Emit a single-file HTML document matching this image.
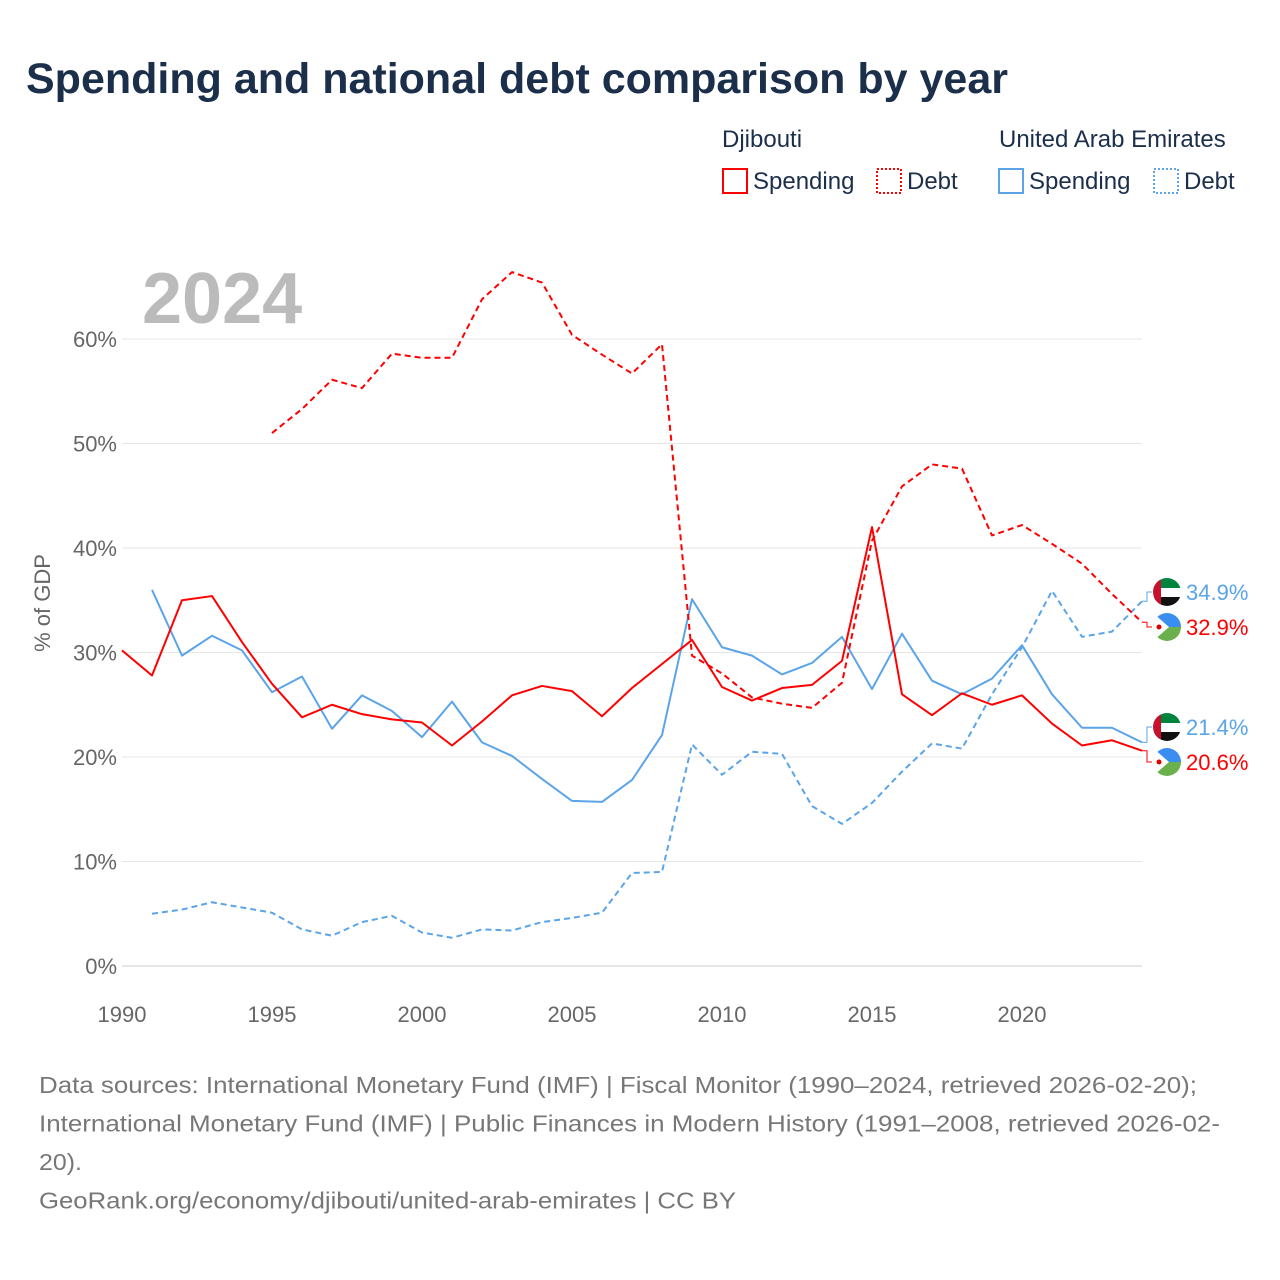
<!DOCTYPE html>
<html><head><meta charset="utf-8"><style>
body{margin:0;background:#fff;font-family:"Liberation Sans",sans-serif;}
#wrap{position:relative;width:1280px;height:1280px;overflow:hidden;}
</style></head><body>
<div id="wrap">
<svg id="chart" width="1280" height="1280"></svg>
</div>
<script>
const years = [];
for (let y = 1990; y <= 2024; y++) years.push(y);
const djSpending = [30.2,27.8,35.0,35.4,31.0,27.0,23.8,25.0,24.1,23.6,23.3,21.1,23.4,25.9,26.8,26.3,23.9,26.6,28.9,31.2,26.7,25.4,26.6,26.9,29.2,42.0,26.0,24.0,26.1,25.0,25.9,23.2,21.1,21.6,20.6];
const djDebt = [null,null,null,null,null,51.0,53.3,56.1,55.3,58.6,58.2,58.2,63.8,66.4,65.4,60.4,58.5,56.7,59.5,29.7,28.0,25.7,25.1,24.7,27.1,40.7,45.9,48.0,47.6,41.2,42.2,40.4,38.5,35.6,32.9];
const uaeSpending = [null,36.0,29.7,31.6,30.2,26.2,27.7,22.7,25.9,24.4,21.9,25.3,21.4,20.1,17.9,15.8,15.7,17.8,22.1,35.1,30.5,29.7,27.9,29.0,31.5,26.5,31.8,27.3,26.0,27.5,30.7,26.0,22.8,22.8,21.4];
const uaeDebt = [null,5.0,5.4,6.1,5.6,5.1,3.5,2.9,4.2,4.8,3.2,2.7,3.5,3.4,4.2,4.6,5.1,8.9,9.0,21.2,18.3,20.5,20.3,15.3,13.6,15.6,18.6,21.3,20.8,26.0,30.5,35.9,31.5,32.0,34.9];
const yTicks = [0,10,20,30,40,50,60];
const xTicks = [1990,1995,2000,2005,2010,2015,2020];

const NS="http://www.w3.org/2000/svg";
const svg=document.getElementById('chart');
const xs=y=>122+(y-1990)*30;
const ys=v=>966-v*10.45;
function el(t,a,parent){const e=document.createElementNS(NS,t);for(const k in a)e.setAttribute(k,a[k]);(parent||svg).appendChild(e);return e;}
function txt(x,y,s,a){const e=el('text',Object.assign({x:x,y:y},a));e.textContent=s;return e;}
const defs=el('defs',{});

let t=txt(26,93,'Spending and national debt comparison by year',{'font-size':43,'font-weight':'bold',fill:'#1b2f4b'});



yTicks.forEach(v=>{
  const g=el('line',{x1:122,x2:1142,y1:ys(v),y2:ys(v),stroke:v===0?'#ccc':'#e6e6e6','stroke-width':1});
  
  
  const l=txt(117,ys(v)+8,v+'%',{'font-size':22,fill:'#666','text-anchor':'end'});
  
  
});
xTicks.forEach(v=>{
  const l=txt(xs(v),1022,String(v),{'font-size':22,fill:'#666','text-anchor':'middle'});
  
  
});
t=txt(50,603,'% of GDP',{'font-size':22,fill:'#666','text-anchor':'middle',transform:'rotate(-90 50 603)'});


t=txt(142,323,'2024',{'font-size':72,'font-weight':'bold',fill:'#bbb'});



function series(arr,color,dash,name){
  let d='';let started=false;
  arr.forEach((v,i)=>{if(v==null){return;}d+=(started?'L':'M')+xs(years[i])+','+ys(v);started=true;});
  const p=el('path',{d:d,fill:'none',stroke:color,'stroke-width':2,'stroke-dasharray':dash||'none','stroke-linejoin':'round'});
  
  
}
series(uaeDebt,'#5ba4e8','6,4','uae-debt-line');
series(uaeSpending,'#5ba4e8',null,'uae-spending-line');
series(djDebt,'#f00','6,4','djibouti-debt-line');
series(djSpending,'#f00',null,'djibouti-spending-line');

let clipN=0;
function endLabel(v,ly,color,flag,name){
  const last=ys(v);
  el('path',{d:`M1142,${last} L1147,${last} L1147,${ly} L1152,${ly}`,fill:'none',stroke:color,'stroke-width':1});
  const cx=1167,r=14;
  const id='fc'+(clipN++);
  const cp=el('clipPath',{id:id},defs);
  el('circle',{cx:cx,cy:ly,r:r},cp);
  const g=el('g',{'clip-path':`url(#${id})`});
  
  
  if(flag==='uae'){
    el('rect',{x:cx-r,y:ly-r,width:2*r,height:10,fill:'#00843d'},g);
    el('rect',{x:cx-r,y:ly-r+10,width:2*r,height:9,fill:'#fff'},g);
    el('rect',{x:cx-r,y:ly-r+19,width:2*r,height:9,fill:'#111'},g);
    el('rect',{x:cx-r,y:ly-r,width:8,height:2*r,fill:'#c8102e'},g);
  } else {
    el('rect',{x:cx-r,y:ly-r,width:2*r,height:r,fill:'#3a8ef0'},g);
    el('rect',{x:cx-r,y:ly,width:2*r,height:r,fill:'#6ab04c'},g);
    el('path',{d:`M${cx-r},${ly-r} L${cx+2},${ly} L${cx-r},${ly+r}Z`,fill:'#fff'},g);
    el('circle',{cx:cx-8,cy:ly,r:2.5,fill:'#d00'},g);
  }
  const l=txt(1186,ly+8,v.toFixed(1)+'%',{'font-size':22,fill:color});
  
  
}
endLabel(uaeDebt[34],592,'#5ba4e8','uae','uae-debt');
endLabel(djDebt[34],627,'#f00','dj','djibouti-debt');
endLabel(uaeSpending[34],727,'#5ba4e8','uae','uae-spending');
endLabel(djSpending[34],762,'#f00','dj','djibouti-spending');

function legText(x,y,s,name){const l=txt(x,y,s,{'font-size':24,fill:'#1b2f4b'});}
legText(722,147,'Djibouti','legend-djibouti-title');
legText(999,147,'United Arab Emirates','legend-uae-title');
function legBox(x,color,dash,label,name){
  const r=el('rect',{x:x,y:169,width:24,height:24,fill:'none',stroke:color,'stroke-width':2,'stroke-dasharray':dash||'none'});
  
  
  legText(x+30,189,label,name);
}
legBox(723,'#f00',null,'Spending','legend-djibouti-spending');
legBox(877,'#f00','2,2','Debt','legend-djibouti-debt');
legBox(999,'#5ba4e8',null,'Spending','legend-uae-spending');
legBox(1154,'#5ba4e8','2,2','Debt','legend-uae-debt');

const foot=['Data sources: International Monetary Fund (IMF) | Fiscal Monitor (1990–2024, retrieved 2026-02-20);','International Monetary Fund (IMF) | Public Finances in Modern History (1991–2008, retrieved 2026-02-','20).','GeoRank.org/economy/djibouti/united-arab-emirates | CC BY'];
const footW=[1158,1181,43,697];
foot.forEach((s,i)=>{const l=txt(39,1093+i*38.5,s,{'font-size':23,fill:'#777',textLength:footW[i],lengthAdjust:'spacingAndGlyphs'});});
</script>
</body></html>
